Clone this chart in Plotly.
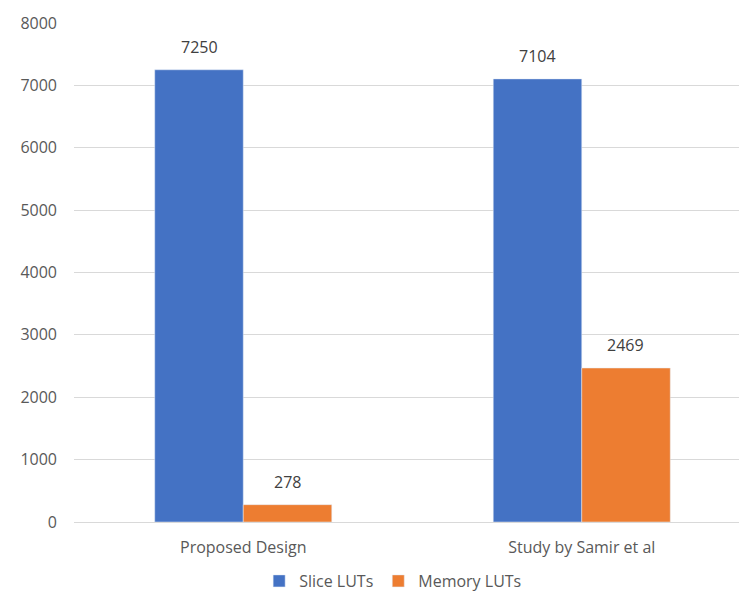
import plotly.graph_objects as go

categories = ["Proposed Design", "Study by Samir et al"]
slice_luts = [7250, 7104]
memory_luts = [278, 2469]
series_names = ["Slice LUTs", "Memory LUTs"]
y_ticks = [0, 1000, 2000, 3000, 4000, 5000, 6000, 7000, 8000]

FONT = "Open Sans"
TXT = "#595959"
fig = go.Figure()
fig.add_trace(go.Bar(x=categories, y=slice_luts, name=series_names[0], marker_color="#4472C4"))
fig.add_trace(go.Bar(x=categories, y=memory_luts, name=series_names[1], marker_color="#ED7D31"))

for vals, shift in ((slice_luts, -44), (memory_luts, 44)):
    for c, v in zip(categories, vals):
        fig.add_annotation(x=c, y=v, text=str(v), showarrow=False, xshift=shift,
                           yanchor="bottom", yshift=10,
                           font=dict(family=FONT, size=16, color="#404040"))

fig.update_layout(
    width=739, height=598,
    margin=dict(l=74, r=0, t=23, b=76, autoexpand=False),
    plot_bgcolor="white", paper_bgcolor="white",
    barmode="group", bargap=0.477, bargroupgap=0,
    font=dict(family=FONT, size=16, color=TXT),
    legend=dict(orientation="h", xref="container", yref="container",
                x=0.532, xanchor="center", y=0.0, yanchor="bottom",
                font=dict(family=FONT, size=16, color=TXT), traceorder="normal"),
    xaxis=dict(range=[-0.5, 1.4645], showline=True, linecolor="#D9D9D9", linewidth=1,
               ticks="", ticklabelstandoff=11, tickfont=dict(size=16, color=TXT)),
    yaxis=dict(range=[0, 8000], tickvals=y_ticks, showgrid=True, gridcolor="#D9D9D9",
               zeroline=False, ticks="", ticklabelstandoff=16,
               tickfont=dict(size=16, color=TXT)),
)
fig.write_html("out.html")
